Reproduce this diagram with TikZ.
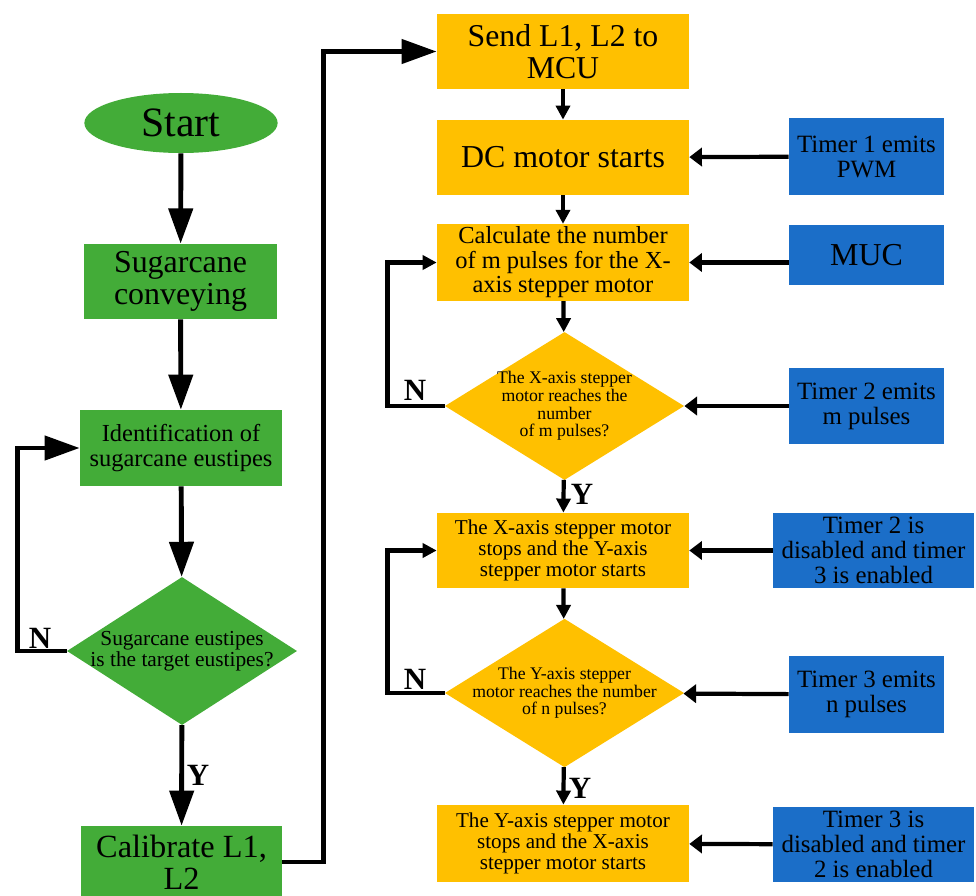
\documentclass[tikz,border=0pt]{standalone}
\usepackage{fontspec}
\setmainfont{Liberation Serif}
\usetikzlibrary{positioning, arrows.meta, shapes.geometric}
\definecolor{cgreen}{RGB}{67,172,56}
\definecolor{cyellow}{RGB}{255,192,0}
\definecolor{cblue}{RGB}{27,110,200}
\newcommand{\fsz}[1]{\fontsize{#1pt}{#1pt}\selectfont}

\begin{document}
\begin{tikzpicture}[
  x=0.025cm, y=-0.025cm,
  box/.style={rectangle, align=center, inner sep=2pt, text=black},
  greenbox/.style={box, fill=cgreen},
  yellowbox/.style={box, fill=cyellow, minimum width=6.3cm, minimum height=1.88cm},
  bluebox/.style={box, fill=cblue, minimum width=3.88cm, minimum height=1.92cm, font=\fsz{17.7}},
  widebox/.style={bluebox, minimum width=5.03cm, minimum height=1.88cm},
  choice/.style={diamond, aspect=1.6, align=center, inner sep=-4pt, minimum width=5.98cm, minimum height=3.7cm, fill=cyellow, font=\fsz{12.6}},
  flow/.style={-{Triangle[width=17pt, length=25pt]}, line width=3.5pt},
  stepflow/.style={-{Triangle[width=10pt, length=10pt]}, line width=3pt},
  link/.style={-{Triangle[width=13pt, length=9pt]}, line width=3pt},
  yn/.style={font=\bfseries\fsz{22}, inner sep=0pt}
]
\useasboundingbox (0,0) rectangle (976,896);
% --- left column ---
\node[ellipse, fill=cgreen, minimum width=4.83cm, minimum height=1.5cm, inner sep=0pt, font=\fsz{29.7}] (start) at (181,123) {Start};
\node[greenbox, minimum width=4.83cm, minimum height=1.88cm, font=\fsz{22.7}] (conv) at (180.5,281.5) {Sugarcane\\conveying};
\node[greenbox, minimum width=5.05cm, minimum height=1.9cm, font=\fsz{17.4}] (ident) at (181,448) {Identification of\\sugarcane eustipes};
\node[choice, fill=cgreen, minimum width=5.75cm, font=\fsz{15.2}] (target) at (182,651) {Sugarcane eustipes\\is the target eustipes?};
\node[greenbox, minimum width=5.03cm, minimum height=1.8cm, font=\fsz{23}] (calib) at (181.5,862) {Calibrate L1,\\L2};
\draw[flow] (start) -- (conv);
\draw[flow] (conv) -- (ident);
\draw[flow] (ident) -- (target);
\draw[flow] (target) -- (calib);
\draw[flow] (target.west) -- ++(-49,0) |- (ident.west);
\node[yn] (n0) at (40,638) {N};
\node[yn] (y0) at (198,775) {Y};
% --- middle column ---
\node[yellowbox, font=\fsz{22.6}] (send) at (563,51.5) {Send L1, L2 to\\MCU};
\node[yellowbox, font=\fsz{22.7}] (dc) at (563,157.5) {DC motor starts};
\node[yellowbox, font=\fsz{17.4}] (calc) at (563,262.5) {Calculate the number\\of m pulses for the X-\\axis stepper motor};
\node[choice] (xreach) at (564.5,406) {The X-axis stepper\\motor reaches the\\number\\of m pulses?};
\node[yellowbox, font=\fsz{15}] (xstop) at (563,550.5) {The X-axis stepper motor\\stops and the Y-axis\\stepper motor starts};
\node[choice] (yreach) at (564.5,693) {The Y-axis stepper\\motor reaches the number\\of n pulses?};
\node[yellowbox, minimum height=1.93cm, font=\fsz{15}] (ystop) at (563,843.5) {The Y-axis stepper motor\\stops and the X-axis\\stepper motor starts};
\draw[flow] (calib.east) -- ++(41,0) |- (send.west);
\draw[stepflow] (send) -- (dc);
\draw[stepflow] (dc) -- (calc);
\draw[stepflow] (calc) -- (xreach);
\draw[stepflow] (xreach) -- (xstop);
\draw[stepflow] (xstop) -- (yreach);
\draw[stepflow] (yreach) -- (ystop);
\draw[stepflow] (xreach.west) -- ++(-57,0) |- (calc.west);
\draw[stepflow] (yreach.west) -- ++(-57,0) |- (xstop.west);
\node[yn] (n1) at (415,390) {N};
\node[yn] (n2) at (415,679) {N};
\node[yn] (y1) at (582,494) {Y};
\node[yn] (y2) at (580,788) {Y};
% --- right column ---
\node[bluebox] (t1) at (866.5,156.5) {Timer 1 emits\\PWM};
\node[bluebox, minimum height=1.5cm, font=\fsz{22.7}] (muc) at (866.5,255) {MUC};
\node[bluebox] (t2m) at (866.5,406) {Timer 2 emits\\m pulses};
\node[widebox] (t2off) at (873.5,550.5) {Timer 2 is\\disabled and timer\\3 is enabled};
\node[bluebox] (t3n) at (866.5,694.5) {Timer 3 emits\\n pulses};
\node[widebox] (t3off) at (873.5,844.5) {Timer 3 is\\disabled and timer\\2 is enabled};
\draw[link] (t1) -- (dc);
\draw[link] (muc.west |- calc) -- (calc);
\draw[link] (t2m) -- (xreach);
\draw[link] (t2off) -- (xstop);
\draw[link] (t3n) -- (yreach);
\draw[link] (t3off) -- (ystop);
\end{tikzpicture}
\end{document}
